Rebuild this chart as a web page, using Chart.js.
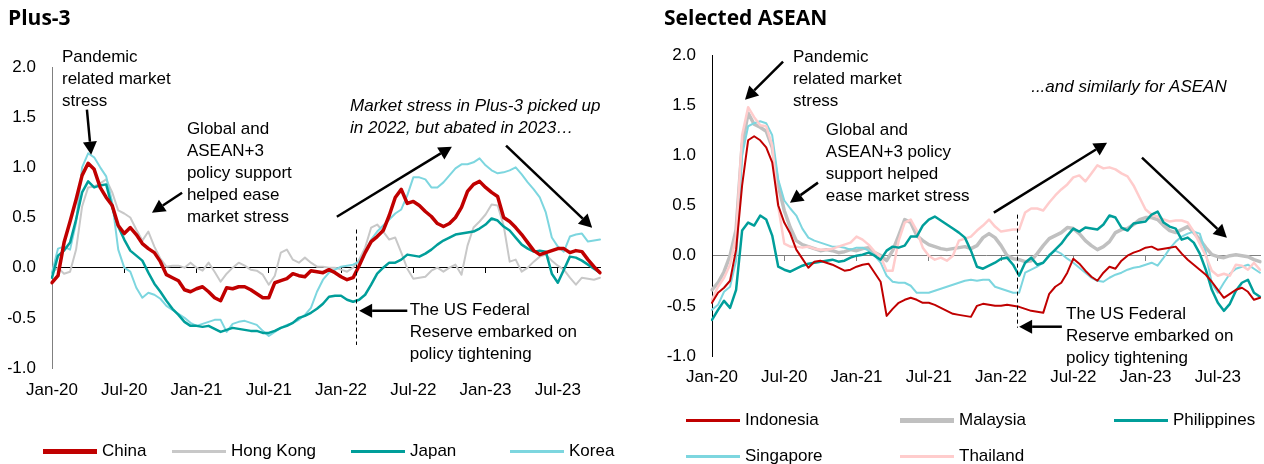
<!DOCTYPE html>
<html><head><meta charset="utf-8">
<script src="https://cdn.jsdelivr.net/npm/chart.js@4.4.1/dist/chart.umd.min.js"></script>
<style>
html,body{margin:0;padding:0;background:#fff;}
body{width:1264px;height:464px;position:relative;overflow:hidden;}
.panel{position:absolute;top:0;width:632px;height:464px;}
</style></head><body>
<div class="panel" style="left:0"><canvas id="c1"></canvas></div>
<div class="panel" style="left:632px"><canvas id="c2"></canvas></div>
<script>
// ---------- DATA (semi-monthly readings, Jan 2020 - Oct 2023) ----------
const categories = [
'2020-01-01','2020-01-16','2020-02-01','2020-02-16','2020-03-01','2020-03-16','2020-04-01','2020-04-16','2020-05-01','2020-05-16','2020-06-01','2020-06-16',
'2020-07-01','2020-07-16','2020-08-01','2020-08-16','2020-09-01','2020-09-16','2020-10-01','2020-10-16','2020-11-01','2020-11-16','2020-12-01','2020-12-16',
'2021-01-01','2021-01-16','2021-02-01','2021-02-16','2021-03-01','2021-03-16','2021-04-01','2021-04-16','2021-05-01','2021-05-16','2021-06-01','2021-06-16',
'2021-07-01','2021-07-16','2021-08-01','2021-08-16','2021-09-01','2021-09-16','2021-10-01','2021-10-16','2021-11-01','2021-11-16','2021-12-01','2021-12-16',
'2022-01-01','2022-01-16','2022-02-01','2022-02-16','2022-03-01','2022-03-16','2022-04-01','2022-04-16','2022-05-01','2022-05-16','2022-06-01','2022-06-16',
'2022-07-01','2022-07-16','2022-08-01','2022-08-16','2022-09-01','2022-09-16','2022-10-01','2022-10-16','2022-11-01','2022-11-16','2022-12-01','2022-12-16',
'2023-01-01','2023-01-16','2023-02-01','2023-02-16','2023-03-01','2023-03-16','2023-04-01','2023-04-16','2023-05-01','2023-05-16','2023-06-01','2023-06-16',
'2023-07-01','2023-07-16','2023-08-01','2023-08-16','2023-09-01','2023-09-16','2023-10-01','2023-10-16'];
const tickLabels = ['Jan-20','Jul-20','Jan-21','Jul-21','Jan-22','Jul-22','Jan-23','Jul-23'];

const china = [-0.15,-0.08,0.25,0.46,0.68,0.92,1.04,0.98,0.80,0.70,
 0.62,0.42,0.34,0.40,0.33,0.24,0.19,0.15,0.06,-0.07,
 -0.10,-0.13,-0.22,-0.24,-0.21,-0.19,-0.24,-0.30,-0.33,-0.20,
 -0.21,-0.19,-0.19,-0.22,-0.26,-0.30,-0.30,-0.15,-0.13,-0.11,
 -0.06,-0.08,-0.09,-0.03,-0.04,-0.05,-0.02,-0.05,-0.09,-0.12,
 -0.10,0.02,0.15,0.26,0.31,0.37,0.52,0.70,0.78,0.64,
 0.66,0.62,0.56,0.51,0.44,0.41,0.44,0.50,0.60,0.76,
 0.83,0.86,0.80,0.75,0.71,0.50,0.46,0.40,0.33,0.25,
 0.17,0.13,0.15,0.17,0.19,0.19,0.15,0.17,0.16,0.08,
 0.01,-0.05];
const hongKong = [-0.05,0.00,-0.06,-0.04,0.18,0.61,0.80,0.81,0.84,0.88,
 0.75,0.57,0.54,0.50,0.38,0.27,0.36,0.21,0.09,0.01,
 0.02,0.02,0.00,0.05,0.00,-0.03,0.05,-0.04,-0.14,-0.06,
 0.00,0.05,0.02,-0.02,-0.03,-0.07,-0.17,-0.08,0.15,0.18,
 0.08,0.05,0.10,0.05,0.01,0.01,0.00,0.00,-0.02,-0.04,
 0.00,0.08,0.20,0.40,0.43,0.36,0.28,0.30,0.15,-0.01,
 -0.11,-0.10,-0.09,-0.03,0.00,-0.04,0.00,0.03,-0.07,0.22,
 0.40,0.46,0.53,0.63,0.62,0.42,0.06,0.08,-0.04,0.00,
 0.06,0.11,0.13,0.07,0.02,-0.02,-0.10,-0.17,-0.10,-0.11,
 -0.12,-0.10];
const japan = [-0.10,0.12,0.17,0.25,0.48,0.75,0.86,0.80,0.82,0.83,
 0.60,0.41,0.28,0.17,0.12,0.07,-0.05,-0.16,-0.24,-0.33,
 -0.41,-0.47,-0.54,-0.58,-0.58,-0.59,-0.58,-0.61,-0.64,-0.62,
 -0.60,-0.61,-0.62,-0.63,-0.63,-0.65,-0.65,-0.63,-0.60,-0.58,
 -0.55,-0.50,-0.48,-0.45,-0.41,-0.36,-0.29,-0.28,-0.28,-0.32,
 -0.34,-0.32,-0.27,-0.17,-0.06,0.00,0.05,0.05,0.08,0.13,
 0.12,0.11,0.14,0.18,0.23,0.27,0.30,0.33,0.34,0.35,
 0.36,0.39,0.43,0.49,0.47,0.41,0.37,0.30,0.23,0.19,
 0.16,0.17,0.16,-0.06,-0.15,-0.02,0.11,0.10,0.07,0.03,
 -0.01,-0.05];
const korea = [-0.05,0.19,0.21,0.18,0.45,1.00,1.14,1.10,1.00,0.91,
 0.65,0.18,0.00,-0.04,-0.20,-0.30,-0.25,-0.27,-0.31,-0.38,
 -0.42,-0.46,-0.50,-0.55,-0.58,-0.56,-0.54,-0.52,-0.52,-0.64,
 -0.56,-0.54,-0.53,-0.55,-0.57,-0.63,-0.68,-0.64,-0.60,-0.57,
 -0.55,-0.52,-0.47,-0.40,-0.24,-0.12,-0.05,-0.02,0.01,0.02,
 0.03,0.06,0.16,0.28,0.36,0.42,0.48,0.54,0.58,0.72,
 0.90,0.90,0.88,0.80,0.80,0.85,0.92,0.99,1.03,1.03,
 1.05,1.09,1.02,0.97,0.94,0.95,0.97,1.00,0.93,0.85,
 0.78,0.70,0.55,0.30,0.21,0.16,0.31,0.33,0.34,0.26,
 0.27,0.28];

const indonesia = [-0.47,-0.37,-0.32,-0.25,0.06,0.70,1.15,1.19,1.15,1.08,
 0.93,0.50,0.33,0.22,0.06,-0.03,-0.12,-0.06,-0.05,-0.07,
 -0.09,-0.12,-0.15,-0.14,-0.11,-0.09,-0.08,-0.17,-0.26,-0.60,
 -0.53,-0.47,-0.44,-0.42,-0.44,-0.47,-0.47,-0.49,-0.52,-0.55,
 -0.58,-0.59,-0.60,-0.61,-0.50,-0.48,-0.49,-0.50,-0.50,-0.49,
 -0.50,-0.51,-0.53,-0.55,-0.56,-0.57,-0.38,-0.31,-0.27,-0.17,
 -0.03,-0.08,-0.15,-0.21,-0.25,-0.17,-0.11,-0.13,-0.05,0.00,
 0.03,0.05,0.08,0.09,0.06,0.07,0.08,0.09,0.02,-0.04,
 -0.09,-0.14,-0.19,-0.26,-0.34,-0.42,-0.38,-0.34,-0.32,-0.36,
 -0.44,-0.42];
const malaysia = [-0.34,-0.27,-0.16,0.00,0.26,1.10,1.42,1.31,1.28,1.24,
 1.08,0.70,0.45,0.28,0.15,0.11,0.09,0.07,0.05,0.06,
 0.05,0.03,0.04,0.06,0.05,0.07,0.08,0.03,0.00,-0.05,
 0.05,0.20,0.36,0.33,0.20,0.15,0.11,0.09,0.07,0.06,
 0.07,0.08,0.09,0.07,0.10,0.18,0.22,0.18,0.10,0.00,
 -0.03,-0.04,-0.06,-0.05,0.02,0.10,0.17,0.20,0.23,0.28,
 0.27,0.22,0.15,0.10,0.06,0.09,0.14,0.23,0.26,0.27,
 0.31,0.36,0.38,0.38,0.36,0.30,0.25,0.23,0.26,0.29,
 0.23,0.16,0.08,0.01,-0.01,-0.02,0.00,0.01,0.00,-0.01,
 -0.04,-0.06];
const philippines = [-0.64,-0.54,-0.45,-0.52,-0.34,0.25,0.33,0.30,0.40,0.36,
 0.20,-0.11,-0.14,-0.16,-0.13,-0.10,-0.08,-0.07,-0.06,-0.05,
 -0.04,-0.06,-0.05,-0.02,0.00,0.01,0.03,0.00,-0.04,0.05,
 0.09,0.08,0.10,0.19,0.19,0.30,0.36,0.39,0.35,0.31,
 0.27,0.23,0.18,0.05,-0.11,-0.13,-0.10,-0.07,-0.03,-0.02,
 -0.09,-0.20,-0.07,-0.02,-0.09,-0.07,0.00,0.06,0.12,0.20,
 0.27,0.24,0.28,0.27,0.26,0.31,0.40,0.38,0.28,0.25,
 0.32,0.33,0.34,0.41,0.44,0.33,0.29,0.27,0.16,0.18,
 0.13,0.02,-0.14,-0.34,-0.47,-0.55,-0.48,-0.35,-0.27,-0.24,
 -0.37,-0.41];
const singapore = [-0.54,-0.49,-0.36,-0.31,-0.05,1.00,1.29,1.32,1.34,1.32,
 1.20,0.76,0.55,0.47,0.40,0.27,0.18,0.15,0.13,0.11,
 0.09,0.09,0.08,0.06,0.08,0.08,0.05,0.00,-0.07,-0.20,
 -0.26,-0.27,-0.27,-0.30,-0.37,-0.37,-0.37,-0.35,-0.33,-0.31,
 -0.29,-0.27,-0.25,-0.24,-0.25,-0.24,-0.24,-0.31,-0.33,-0.35,
 -0.37,-0.37,-0.17,-0.14,-0.11,-0.07,0.01,0.05,0.02,-0.03,
 -0.07,-0.12,-0.17,-0.22,-0.25,-0.26,-0.22,-0.19,-0.17,-0.14,
 -0.12,-0.11,-0.09,-0.07,-0.10,-0.02,0.07,0.14,0.19,0.22,
 0.24,0.22,0.03,-0.28,-0.37,-0.27,-0.18,-0.13,-0.11,-0.09,
 -0.13,-0.17];
const thailand = [-0.44,-0.31,-0.22,-0.09,0.19,1.20,1.48,1.38,1.30,1.29,
 1.10,0.49,0.12,0.09,0.09,0.08,0.09,0.07,0.06,0.06,
 0.07,0.09,0.11,0.13,0.19,0.16,0.11,0.04,-0.01,-0.15,
 -0.15,0.15,0.33,0.36,0.25,0.08,0.00,-0.04,-0.02,-0.05,
 0.00,0.15,0.17,0.19,0.25,0.30,0.36,0.29,0.24,0.25,
 0.26,0.26,0.43,0.47,0.47,0.45,0.53,0.60,0.66,0.71,
 0.78,0.80,0.74,0.82,0.90,0.87,0.88,0.86,0.82,0.79,
 0.70,0.58,0.46,0.41,0.39,0.36,0.34,0.35,0.35,0.33,
 0.24,0.12,0.00,-0.15,-0.20,-0.18,-0.20,-0.09,-0.10,-0.14,
 -0.07,-0.14];

// ---------- STYLE ----------
const FONT = '"Liberation Sans", Arial, sans-serif';
const RED = '#C00000', GREY = '#C8C8C8', TEAL = '#009E9A', CYAN = '#7DD6DF', PINK = '#FFCCCC';

function drawArrow(ctx, x1, y1, x2, y2) {
  const a = Math.atan2(y2 - y1, x2 - x1), hl = 13, hw = 7;
  const bx = x2 - hl * Math.cos(a), by = y2 - hl * Math.sin(a);
  ctx.lineWidth = 2.5;
  ctx.beginPath(); ctx.moveTo(x1, y1); ctx.lineTo(bx, by); ctx.stroke();
  ctx.beginPath(); ctx.moveTo(x2, y2);
  ctx.lineTo(bx + hw * Math.sin(a), by - hw * Math.cos(a));
  ctx.lineTo(bx - hw * Math.sin(a), by + hw * Math.cos(a));
  ctx.closePath(); ctx.fill();
}
function notesPlugin(notes) {
  return {
    id: 'notes',
    afterDatasetsDraw(chart) {
      const ctx = chart.ctx, sx = chart.scales.x, sy = chart.scales.y;
      ctx.save();
      ctx.fillStyle = '#000'; ctx.strokeStyle = '#000';
      ctx.textAlign = 'left'; ctx.textBaseline = 'middle';
      notes.texts.forEach(t => {
        ctx.font = (t.italic ? 'italic ' : '') + '17px ' + FONT;
        const px = sx.getPixelForValue(t.at[0]), py = sy.getPixelForValue(t.at[1]);
        t.lines.forEach((s, i) => ctx.fillText(s, px, py + i * 22));
      });
      notes.arrows.forEach(a => drawArrow(ctx, sx.getPixelForValue(a[0]), sy.getPixelForValue(a[1]),
                                                sx.getPixelForValue(a[2]), sy.getPixelForValue(a[3])));
      const v = notes.vline, vx = Math.round(sx.getPixelForValue(v[0])) + 0.5;
      ctx.lineWidth = 1; ctx.setLineDash([4, 3]);
      ctx.beginPath(); ctx.moveTo(vx, sy.getPixelForValue(v[1])); ctx.lineTo(vx, sy.getPixelForValue(v[2])); ctx.stroke();
      ctx.restore();
    }
  };
}

function makePanel(id, cfg) {
  return new Chart(document.getElementById(id), {
    type: 'line',
    data: {
      labels: categories,
      datasets: cfg.series.map(s => ({
        label: s.label, data: s.data, borderColor: s.color, backgroundColor: s.color,
        borderWidth: s.width, pointRadius: 0, tension: 0, fill: false, order: s.order,
        borderJoinStyle: 'round', borderCapStyle: 'round'
      }))
    },
    options: {
      responsive: true, maintainAspectRatio: false, animation: false, devicePixelRatio: 1,
      events: [],
      layout: { padding: { left: cfg.padLeft, right: cfg.padRight, top: 0, bottom: 0 } },
      plugins: {
        legend: { display: false }, tooltip: { enabled: false },
        title: { display: true, text: cfg.title, align: 'start', color: '#000',
                 font: { family: '"Open Sans", sans-serif', size: 21, weight: 'bold' },
                 padding: { top: 6, bottom: cfg.titleBottom } }
      },
      scales: {
        x: {
          type: 'category', position: { y: 0 },
          ticks: { display: false, autoSkip: false },
          grid: { display: true, drawOnChartArea: false, drawTicks: true, tickLength: 5, tickWidth: 1,
                  tickColor: c => (c.index % 12 === 0 && c.index > 0) ? cfg.zeroColor : 'rgba(0,0,0,0)' },
          border: { display: true, color: cfg.zeroColor, width: 1 }
        },
        xl: {
          type: 'category', position: 'bottom',
          afterFit: s => { s.height = cfg.xlHeight; },
          ticks: { autoSkip: false, maxRotation: 0, minRotation: 0, padding: 0, color: '#000',
                   font: { family: FONT, size: 17 },
                   callback: (v, i) => (i % 12 === 0 ? tickLabels[i / 12] : '') },
          grid: { display: true, drawOnChartArea: false, drawTicks: true, tickLength: cfg.labelGap,
                  color: 'rgba(0,0,0,0)', tickColor: 'rgba(0,0,0,0)' },
          border: { display: false }
        },
        y: {
          min: -1, max: 2, position: 'left',
          afterFit: s => { s.width = cfg.yWidth; },
          ticks: { stepSize: 0.5, padding: 16, color: '#000', font: { family: FONT, size: 17 },
                   callback: v => Number(v).toFixed(1) },
          grid: { display: true, drawOnChartArea: false, drawTicks: false, color: 'rgba(0,0,0,0)' },
          border: { display: true, color: cfg.axisColor, width: 1 }
        }
      }
    },
    plugins: [notesPlugin(cfg.notes)]
  });
}

const leftSeries = [
  { label: 'China', data: china, color: RED, width: 3.5, legendW: 5, order: 0 },
  { label: 'Hong Kong', data: hongKong, color: GREY, width: 2, legendW: 3, order: 3 },
  { label: 'Japan', data: japan, color: TEAL, width: 2.5, legendW: 3, order: 1 },
  { label: 'Korea', data: korea, color: CYAN, width: 2, legendW: 3, order: 2 }
];
const rightSeries = [
  { label: 'Indonesia', data: indonesia, color: RED, width: 2, legendW: 3, order: 0 },
  { label: 'Malaysia', data: malaysia, color: '#C0C0C0', width: 3.5, legendW: 5, order: 4 },
  { label: 'Philippines', data: philippines, color: TEAL, width: 2.5, legendW: 3, order: 1 },
  { label: 'Singapore', data: singapore, color: CYAN, width: 2, legendW: 3, order: 3 },
  { label: 'Thailand', data: thailand, color: PINK, width: 2.5, legendW: 3, order: 2 }
];

makePanel('c1', {
  title: 'Plus-3', series: leftSeries, padLeft: 8, padRight: 32, yWidth: 44,
  titleBottom: 35.8, xlHeight: 96, labelGap: 12, axisColor: '#808080', zeroColor: '#000',
  notes: {
    texts: [
      { at: [1.66, 2.10], lines: ['Pandemic', 'related market', 'stress'] },
      { at: [22.4, 1.375], lines: ['Global and', 'ASEAN+3', 'policy support', 'helped ease', 'market stress'] },
      { at: [49.5, 1.605], italic: true, lines: ['Market stress in Plus-3 picked up', 'in 2022, but abated in 2023\u2026'] },
      { at: [59.4, -0.43], lines: ['The US Federal', 'Reserve embarked on', 'policy tightening'] }
    ],
    arrows: [[5.8, 1.575, 6.5, 1.126], [21.6, 0.747, 16.6, 0.548], [47.3, 0.508, 66.4, 1.206],
             [75.4, 1.216, 89.7, 0.399], [59.0, -0.43, 51.0, -0.43]],
    vline: [50.5, 0.38, -0.77]
  }
});
makePanel('c2', {
  title: 'Selected ASEAN', series: rightSeries, padLeft: 32, padRight: 4, yWidth: 48,
  titleBottom: 23.8, xlHeight: 108, labelGap: 11, axisColor: '#000', zeroColor: '#808080',
  notes: {
    texts: [
      { at: [13.45, 1.98], lines: ['Pandemic', 'related market', 'stress'] },
      { at: [18.9, 1.245], lines: ['Global and', 'ASEAN+3 policy', 'support helped', 'ease market stress'] },
      { at: [53.0, 1.674], italic: true, lines: ['...and similarly for ASEAN'] },
      { at: [58.8, -0.588], lines: ['The US Federal', 'Reserve embarked on', 'policy tightening'] }
    ],
    arrows: [[11.8, 1.934, 5.48, 1.555], [17.6, 0.728, 12.95, 0.528], [46.8, 0.429, 65.6, 1.126],
             [71.4, 0.977, 85.5, 0.179], [58.1, -0.708, 51.0, -0.708]],
    vline: [50.6, 0.409, -0.718]
  }
});

// ---------- HTML legends built from the series definitions ----------
function addLegend(series, slots) {
  series.forEach((s, i) => {
    const [x, y] = slots[i];
    const ln = document.createElement('div');
    ln.style.cssText = `position:absolute;left:${x}px;top:${y - s.legendW / 2}px;width:54px;height:${s.legendW}px;background:${s.color}`;
    const tx = document.createElement('div');
    tx.textContent = s.label;
    tx.style.cssText = `position:absolute;left:${x + 59}px;top:${y - 11}px;font:17px ${FONT};line-height:22px;color:#000;white-space:nowrap`;
    document.body.append(ln, tx);
  });
}
addLegend(leftSeries, [[43, 451], [172, 451], [351, 451], [510, 451]]);
addLegend(rightSeries, [[686, 420], [900, 420], [1114, 420], [686, 456], [900, 456]]);
</script>
</body></html>
